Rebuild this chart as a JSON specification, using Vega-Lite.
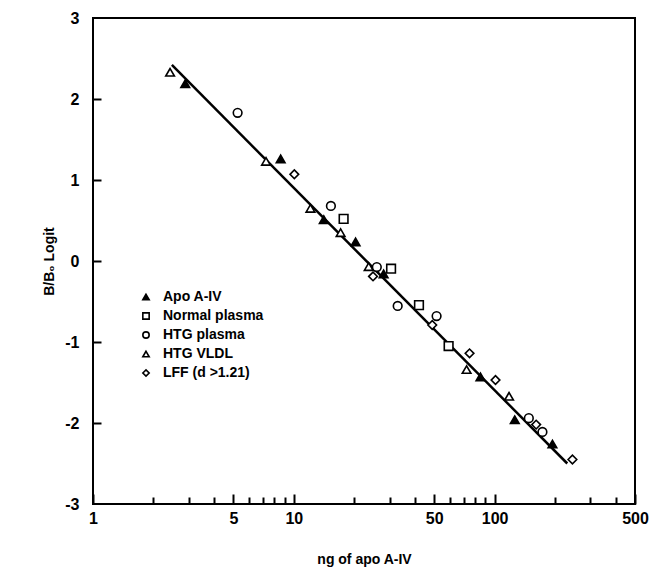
{
  "$schema": "https://vega.github.io/schema/vega-lite/v6.json",
  "width": 542,
  "height": 486,
  "autosize": "none",
  "padding": {"left": 93, "top": 18, "right": 15, "bottom": 70},
  "background": "white",
  "config": {
    "view": {"stroke": "black", "strokeWidth": 2},
    "font": "Liberation Sans",
    "axis": {"domain": false, "ticks": true, "tickColor": "black", "tickOpacity": 1, "tickWidth": 2, "labelColor": "black", "titleColor": "black", "grid": false, "zindex": 2},
    "legend": {"symbolStrokeColor": "black", "symbolStrokeWidth": 1.6}
  },
  "datasets": {
    "pts": [
      {"ng": 2.88, "logit": 2.19, "series": "Apo A-IV"},
      {"ng": 8.6, "logit": 1.26, "series": "Apo A-IV"},
      {"ng": 14.1, "logit": 0.51, "series": "Apo A-IV"},
      {"ng": 20.3, "logit": 0.235, "series": "Apo A-IV"},
      {"ng": 28.0, "logit": -0.16, "series": "Apo A-IV"},
      {"ng": 85, "logit": -1.43, "series": "Apo A-IV"},
      {"ng": 126, "logit": -1.96, "series": "Apo A-IV"},
      {"ng": 194, "logit": -2.26, "series": "Apo A-IV"},
      {"ng": 17.7, "logit": 0.52, "series": "Normal plasma"},
      {"ng": 30.5, "logit": -0.095, "series": "Normal plasma"},
      {"ng": 42, "logit": -0.545, "series": "Normal plasma"},
      {"ng": 59, "logit": -1.05, "series": "Normal plasma"},
      {"ng": 5.25, "logit": 1.83, "series": "HTG plasma"},
      {"ng": 15.3, "logit": 0.68, "series": "HTG plasma"},
      {"ng": 25.9, "logit": -0.075, "series": "HTG plasma"},
      {"ng": 32.9, "logit": -0.555, "series": "HTG plasma"},
      {"ng": 51.4, "logit": -0.68, "series": "HTG plasma"},
      {"ng": 148, "logit": -1.94, "series": "HTG plasma"},
      {"ng": 173, "logit": -2.11, "series": "HTG plasma"},
      {"ng": 2.42, "logit": 2.33, "series": "HTG VLDL"},
      {"ng": 7.27, "logit": 1.23, "series": "HTG VLDL"},
      {"ng": 12.1, "logit": 0.65, "series": "HTG VLDL"},
      {"ng": 17.1, "logit": 0.35, "series": "HTG VLDL"},
      {"ng": 23.6, "logit": -0.07, "series": "HTG VLDL"},
      {"ng": 72.5, "logit": -1.34, "series": "HTG VLDL"},
      {"ng": 118, "logit": -1.67, "series": "HTG VLDL"},
      {"ng": 10.06, "logit": 1.07, "series": "LFF (d >1.21)"},
      {"ng": 24.8, "logit": -0.19, "series": "LFF (d >1.21)"},
      {"ng": 48.9, "logit": -0.79, "series": "LFF (d >1.21)"},
      {"ng": 75, "logit": -1.14, "series": "LFF (d >1.21)"},
      {"ng": 101, "logit": -1.47, "series": "LFF (d >1.21)"},
      {"ng": 161, "logit": -2.02, "series": "LFF (d >1.21)"},
      {"ng": 244, "logit": -2.45, "series": "LFF (d >1.21)"}
    ],
    "fit": [
      {"ng": 2.47, "logit": 2.42},
      {"ng": 230, "logit": -2.5}
    ]
  },
  "resolve": {"axis": {"x": "independent", "y": "independent"}},
  "layer": [
    {
      "data": {"name": "fit"},
      "mark": {"type": "line", "color": "black", "strokeWidth": 2.5},
      "encoding": {
        "x": {"field": "ng", "type": "quantitative", "scale": {"type": "log", "domain": [1, 500], "nice": false},
          "axis": {
            "orient": "bottom",
            "title": null,
            "values": [2,3,4,6,7,8,9,20,30,40,60,70,80,90,200,300,400],
            "labels": false,
            "ticks": true,
            "offset": -7,
            "tickSize": 7
          }},
        "y": {"field": "logit", "type": "quantitative", "scale": {"domain": [-3, 3], "nice": false},
          "axis": {
            "orient": "left",
            "title": null,
            "values": [-2,-1,0,1,2],
            "labels": false,
            "ticks": true,
            "offset": -8,
            "tickSize": 8
          }}
      }
    },
    {
      "data": {"name": "pts"},
      "mark": {"type": "point", "filled": true, "strokeWidth": 1.6, "size": 75, "opacity": 1, "fillOpacity": 1, "strokeOpacity": 1},
      "encoding": {
        "x": {"field": "ng", "type": "quantitative",
          "axis": {
            "orient": "bottom",
            "title": "ng of apo A-IV",
            "titleFontSize": 14, "titleFontWeight": "bold", "titlePadding": 26,
            "values": [1,5,10,50,100,500],
            "labelExpr": "'' + datum.value",
            "labelFontSize": 16, "labelFontWeight": "bold", "labelPadding": 6,
            "labelFlush": false, "labelOverlap": false,
            "ticks": true,
            "offset": -10,
            "tickSize": 10
          }},
        "y": {"field": "logit", "type": "quantitative",
          "axis": {
            "orient": "left",
            "title": "B/B₀ Logit",
            "titleFontSize": 14, "titleFontWeight": "bold", "titlePadding": 8,
            "values": [-3,-2,-1,0,1,2,3],
            "labelExpr": "datum.value < 0 ? '-' + abs(datum.value) : '' + datum.value",
            "labelFontSize": 16, "labelFontWeight": "bold", "labelPadding": 14,
            "labelFlush": false, "labelOverlap": false,
            "ticks": false
          }},
        "shape": {"field": "series", "type": "nominal",
          "scale": {"domain": ["Apo A-IV", "Normal plasma", "HTG plasma", "HTG VLDL", "LFF (d >1.21)"],
                    "range": ["triangle-up", "square", "circle", "triangle-up", "diamond"]},
          "legend": {"title": null, "orient": "none", "legendX": 46, "legendY": 272,
            "labelFontSize": 14, "labelFontWeight": "bold", "labelColor": "black",
            "symbolSize": 40, "symbolStrokeWidth": 1.6, "symbolStrokeColor": "black",
            "rowPadding": 5, "labelOffset": 10}},
        "color": {"field": "series", "type": "nominal",
          "scale": {"domain": ["Apo A-IV", "Normal plasma", "HTG plasma", "HTG VLDL", "LFF (d >1.21)"],
                    "range": ["black", "white", "white", "white", "white"]},
          "legend": {"title": null, "orient": "none", "legendX": 46, "legendY": 272,
            "labelFontSize": 14, "labelFontWeight": "bold", "labelColor": "black",
            "symbolSize": 40, "symbolStrokeWidth": 1.6, "symbolStrokeColor": "black",
            "rowPadding": 5, "labelOffset": 10}},
        "stroke": {"value": "black"}
      }
    }
  ]
}
